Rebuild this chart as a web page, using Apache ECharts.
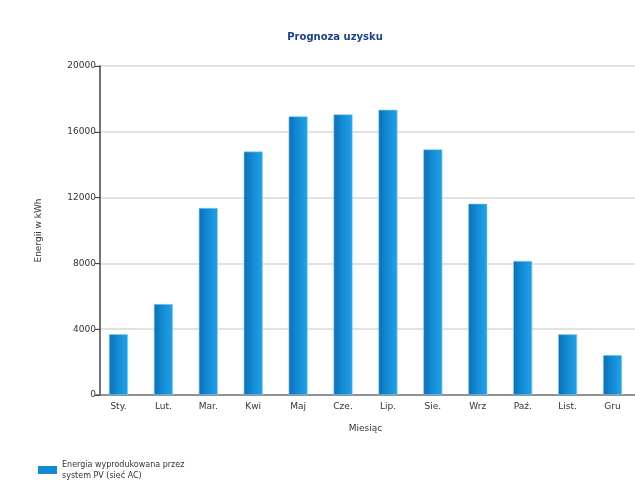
<!DOCTYPE html>
<html>
<head>
<meta charset="utf-8">
<script src="https://cdn.jsdelivr.net/npm/echarts@6/dist/echarts.min.js"></script>
<style>
  html, body { margin: 0; padding: 0; background: #fff; }
  #chart { width: 635px; height: 483px; }
</style>
</head>
<body>
<div id="chart"></div>
<script>
// dane
const months = ['Sty.', 'Lut.', 'Mar.', 'Kwi', 'Maj', 'Cze.', 'Lip.', 'Sie.', 'Wrz', 'Paź.', 'List.', 'Gru'];
const energy = [3700, 5530, 11370, 14800, 16940, 17060, 17340, 14930, 11630, 8150, 3690, 2430];
const seriesName = 'Energia wyprodukowana przez\nsystem PV (sieć AC)';

const chart = echarts.init(document.getElementById('chart'));

const font = 'DejaVu Sans';

const option = {
  animation: false,
  backgroundColor: '#fff',
  title: {
    text: 'Prognoza uzysku',
    left: 330,
    top: 27,
    textAlign: 'center',
    textStyle: { fontFamily: font, fontSize: 10, fontWeight: 'bold', color: '#1f3f8f' }
  },
  legend: {
    left: 33,
    top: 454,
    itemWidth: 19,
    itemHeight: 8,
    itemGap: 4,
    itemStyle: { color: '#1489d3', borderWidth: 0 },
    textStyle: { fontFamily: font, fontSize: 8, color: '#333', lineHeight: 11 },
    data: [{ name: seriesName, icon: 'rect' }]
  },
  grid: { left: 96, right: -2, top: 66, bottom: 88 },
  xAxis: {
    type: 'category',
    data: months,
    name: 'Miesiąc',
    nameLocation: 'middle',
    nameGap: 29,
    nameTextStyle: { fontFamily: font, fontSize: 9, color: '#333' },
    axisLine: { lineStyle: { color: '#777', width: 1.5 } },
    axisTick: { alignWithLabel: true, length: 4, lineStyle: { color: '#444' } },
    axisLabel: { fontFamily: font, fontSize: 9, color: '#333', margin: 7 }
  },
  yAxis: {
    type: 'value',
    min: 0,
    max: 20000,
    interval: 4000,
    offset: -4,
    name: 'Energii w kWh',
    nameLocation: 'middle',
    nameGap: 57,
    nameTextStyle: { fontFamily: font, fontSize: 9, color: '#333' },
    axisLine: { show: true, lineStyle: { color: '#444', width: 1.5 } },
    axisTick: { show: true, length: 5, lineStyle: { color: '#444' } },
    axisLabel: { fontFamily: font, fontSize: 9, color: '#333', margin: 4, formatter: v => String(v) },
    splitLine: { lineStyle: { color: '#d9d9d9', width: 1.5 } }
  },
  series: [{
    name: seriesName,
    type: 'bar',
    data: energy,
    barWidth: 19,
    itemStyle: {
      color: new echarts.graphic.LinearGradient(0, 0, 1, 0, [
        { offset: 0, color: '#0a6fb8' },
        { offset: 0.45, color: '#138ad2' },
        { offset: 1, color: '#20a2ea' }
      ]),
      borderColor: '#8fd0f5',
      borderWidth: 0.6
    }
  }]
};

chart.setOption(option);
</script>
</body>
</html>
